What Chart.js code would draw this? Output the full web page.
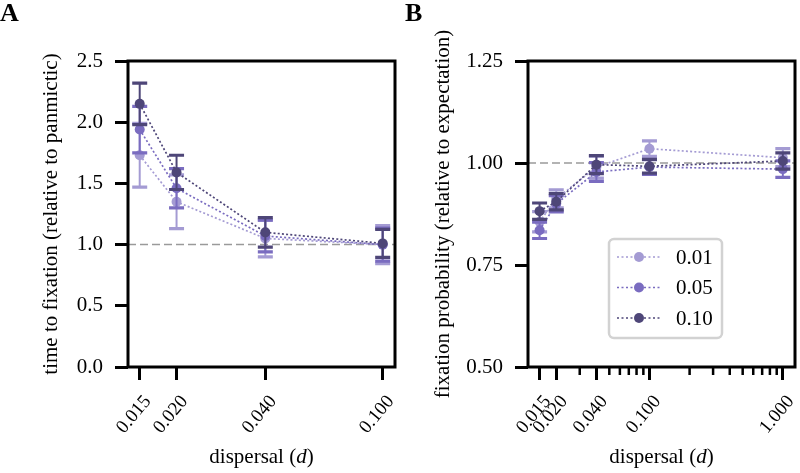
<!DOCTYPE html>
<html>
<head>
<meta charset="utf-8">
<script src="https://cdn.jsdelivr.net/npm/chart.js@4.4.1/dist/chart.umd.min.js"></script>
<style>
  html, body { margin: 0; padding: 0; background: #fff; }
  #wrap { width: 800px; height: 473px; display: flex; }
  canvas { display: block; }
</style>
</head>
<body>
<div id="wrap">
  <canvas id="chartA" width="400" height="473"></canvas>
  <canvas id="chartB" width="400" height="473"></canvas>
</div>
<script>
const seriesLabels = ['0.01', '0.05', '0.10']
const seriesColors = ['#a49bd3', '#7a6cc0', '#4e4678']

// panel A - time to fixation
const dispersalA = [0.015, 0.020, 0.040, 0.100]
const timeLow = [1.73, 1.35, 1.05, 1.00]
const timeMid = [1.94, 1.46, 1.07, 1.00]
const timeHigh = [2.15, 1.59, 1.10, 1.01]
const timeErrLow = [0.26, 0.22, 0.15, 0.155]
const timeErrMid = [0.19, 0.16, 0.13, 0.135]
const timeErrHigh = [0.17, 0.14, 0.12, 0.115]
const xTicksA = [0.015, 0.020, 0.040, 0.100]
const yTicksA = [0, 0.5, 1.0, 1.5, 2.0, 2.5]

// panel B - fixation probability
const dispersalB = [0.015, 0.020, 0.040, 0.100, 1.000]
const probLow = [0.856, 0.912, 0.990, 1.035, 1.013]
const probMid = [0.835, 0.900, 0.978, 0.990, 0.985]
const probHigh = [0.882, 0.905, 0.996, 0.992, 1.005]
const probErrLow = [0.025, 0.022, 0.027, 0.019, 0.022]
const probErrMid = [0.020, 0.020, 0.023, 0.018, 0.020]
const probErrHigh = [0.020, 0.020, 0.022, 0.017, 0.020]
const xTicksB = [0.015, 0.020, 0.040, 0.100, 1.000]
const xMinorB = [0.03, 0.05, 0.06, 0.07, 0.08, 0.09, 0.2, 0.3, 0.4, 0.5, 0.6, 0.7, 0.8, 0.9]
const yTicksB = [0.50, 0.75, 1.00, 1.25]

const refLine = 1.0
const serif = 'Liberation Serif'

function makeDatasets(xs, ys, errs) {
    return ys.map((vals, i) => ({
        label: seriesLabels[i],
        data: xs.map((x, j) => ({ x: x, y: vals[j] })),
        errors: errs[i],
        borderColor: seriesColors[i],
        backgroundColor: seriesColors[i],
        pointBackgroundColor: seriesColors[i],
        borderWidth: 1.7,
        borderDash: [2, 2.2],
        pointRadius: 5,
        pointBorderWidth: 0,
        tension: 0,
        order: 3 - i
    }))
}

// no auto padding, the plot box stays where the reference has it
function noPad(s) {
    s.paddingLeft = 0
    s.paddingRight = 0
    s.paddingTop = 0
    s.paddingBottom = 0
}

const panelPlugin = {
    id: 'panel',
    beforeDatasetsDraw(chart) {
        const ctx = chart.ctx
        const a = chart.chartArea
        const y = chart.scales.y.getPixelForValue(refLine)
        ctx.save()
        ctx.strokeStyle = '#9a9a9a'
        ctx.lineWidth = 1.5
        ctx.setLineDash([8, 4])
        ctx.beginPath()
        ctx.moveTo(a.left, y)
        ctx.lineTo(a.right, y)
        ctx.stroke()
        ctx.restore()
    },
    beforeDatasetDraw(chart, args) {
        const ds = chart.data.datasets[args.index]
        const ctx = chart.ctx
        const xs = chart.scales.x, ys = chart.scales.y
        ctx.save()
        ctx.strokeStyle = ds.borderColor
        ds.data.forEach((p, j) => {
            const e = ds.errors[j]
            const px = xs.getPixelForValue(p.x)
            const top = ys.getPixelForValue(p.y + e)
            const bot = ys.getPixelForValue(p.y - e)
            ctx.lineWidth = 2
            ctx.beginPath()
            ctx.moveTo(px, top)
            ctx.lineTo(px, bot)
            ctx.stroke()
            ctx.lineWidth = 3.2
            ctx.beginPath()
            ctx.moveTo(px - 7.5, top)
            ctx.lineTo(px + 7.5, top)
            ctx.moveTo(px - 7.5, bot)
            ctx.lineTo(px + 7.5, bot)
            ctx.stroke()
        })
        ctx.restore()
    },
    afterDraw(chart, args, opts) {
        const ctx = chart.ctx
        const a = chart.chartArea
        ctx.save()
        // frame
        ctx.strokeStyle = '#000'
        ctx.lineWidth = 3
        ctx.strokeRect(a.left, a.top, a.right - a.left, a.bottom - a.top)
        // minor ticks
        if (opts.minor) {
            ctx.lineWidth = 2.5
            ctx.beginPath()
            opts.minor.forEach(v => {
                const px = chart.scales.x.getPixelForValue(v)
                ctx.moveTo(px, a.bottom)
                ctx.lineTo(px, a.bottom + 8)
            })
            ctx.stroke()
        }
        // panel letter
        ctx.fillStyle = '#000'
        ctx.font = `bold 26px "${serif}"`
        ctx.textBaseline = 'alphabetic'
        ctx.textAlign = 'left'
        ctx.fillText(opts.letter, opts.letterX, 21)
        // x title with italic d
        const parts = [['dispersal (', ''], ['d', 'italic '], [')', '']]
        let w = 0
        parts.forEach(p => { ctx.font = `${p[1]}21px "${serif}"`; w += ctx.measureText(p[0]).width })
        let x = (a.left + a.right) / 2 - w / 2
        parts.forEach(p => {
            ctx.font = `${p[1]}21px "${serif}"`
            ctx.fillText(p[0], x, 463)
            x += ctx.measureText(p[0]).width
        })
        // legend
        if (opts.legend) {
            const L = opts.legend
            ctx.fillStyle = '#fff'
            ctx.strokeStyle = '#d2d2d2'
            ctx.lineWidth = 2.5
            ctx.beginPath()
            ctx.roundRect(L.x, L.y, L.w, L.h, 5)
            ctx.fill()
            ctx.stroke()
            chart.data.datasets.forEach((ds, i) => {
                const cy = L.y + 18 + i * 30.5
                ctx.strokeStyle = ds.borderColor
                ctx.lineWidth = 1.6
                ctx.setLineDash([2, 2.5])
                ctx.beginPath()
                ctx.moveTo(L.x + 8, cy)
                ctx.lineTo(L.x + 52, cy)
                ctx.stroke()
                ctx.setLineDash([])
                ctx.fillStyle = ds.borderColor
                ctx.beginPath()
                ctx.arc(L.x + 30, cy, 5, 0, Math.PI * 2)
                ctx.fill()
                ctx.fillStyle = '#000'
                ctx.font = `21px "${serif}"`
                ctx.textBaseline = 'middle'
                ctx.fillText(ds.label, L.x + 67, cy + 1)
            })
        }
        ctx.restore()
    }
}

function makeChart(id, cfg) {
    const tickFont = { family: serif, size: 21 }
    return new Chart(document.getElementById(id), {
        type: 'line',
        data: { datasets: cfg.datasets },
        options: {
            responsive: false,
            animation: false,
            layout: { padding: { top: 61, right: cfg.padRight, left: 0, bottom: 0 } },
            plugins: {
                legend: { display: false },
                tooltip: { enabled: false },
                panel: cfg.panel
            },
            scales: {
                x: {
                    type: 'logarithmic',
                    min: cfg.xMin,
                    max: cfg.xMax,
                    bounds: 'data',
                    afterBuildTicks: s => { s.ticks = cfg.xTicks.map(v => ({ value: v })) },
                    afterFit: s => { s.height = 106; noPad(s) },
                    grid: { display: true, drawOnChartArea: false, drawTicks: true, tickLength: 13, tickWidth: 3, tickColor: '#000' },
                    border: { display: false },
                    ticks: {
                        autoSkip: false, minRotation: 50, maxRotation: 50, padding: 11, labelOffset: 8,
                        color: '#000', font: { family: serif, size: 19 },
                        callback: v => Number(v).toFixed(3)
                    }
                },
                y: {
                    type: 'linear',
                    min: cfg.yMin,
                    max: cfg.yMax,
                    afterBuildTicks: s => { s.ticks = cfg.yTicks.map(v => ({ value: v })) },
                    afterFit: s => { s.width = 128; noPad(s) },
                    grid: { display: true, drawOnChartArea: false, drawTicks: true, tickLength: 13, tickWidth: 3, tickColor: '#000' },
                    border: { display: false },
                    ticks: {
                        padding: 12, color: '#000', font: tickFont,
                        callback: v => Number(v).toFixed(cfg.yDigits)
                    },
                    title: {
                        display: true, text: cfg.yTitle, color: '#000',
                        font: { family: serif, size: 21 },
                        padding: { top: cfg.titlePad, bottom: 0 }
                    }
                }
            }
        },
        plugins: [panelPlugin]
    })
}

makeChart('chartA', {
    datasets: makeDatasets(dispersalA, [timeLow, timeMid, timeHigh], [timeErrLow, timeErrMid, timeErrHigh]),
    xMin: 0.01369, xMax: 0.1101, xTicks: xTicksA,
    yMin: 0, yMax: 2.5, yTicks: yTicksA, yDigits: 1,
    yTitle: 'time to fixation (relative to panmictic)', titlePad: 39,
    padRight: 3,
    panel: { letter: 'A', letterX: 0 }
})

makeChart('chartB', {
    datasets: makeDatasets(dispersalB, [probLow, probMid, probHigh], [probErrLow, probErrMid, probErrHigh]),
    xMin: 0.01228, xMax: 1.234, xTicks: xTicksB,
    yMin: 0.5, yMax: 1.25, yTicks: yTicksB, yDigits: 2,
    yTitle: 'fixation probability (relative to expectation)', titlePad: 31,
    padRight: 2,
    panel: { letter: 'B', letterX: 5, minor: xMinorB, legend: { x: 209, y: 239, w: 113, h: 99 } }
})
</script>
</body>
</html>
